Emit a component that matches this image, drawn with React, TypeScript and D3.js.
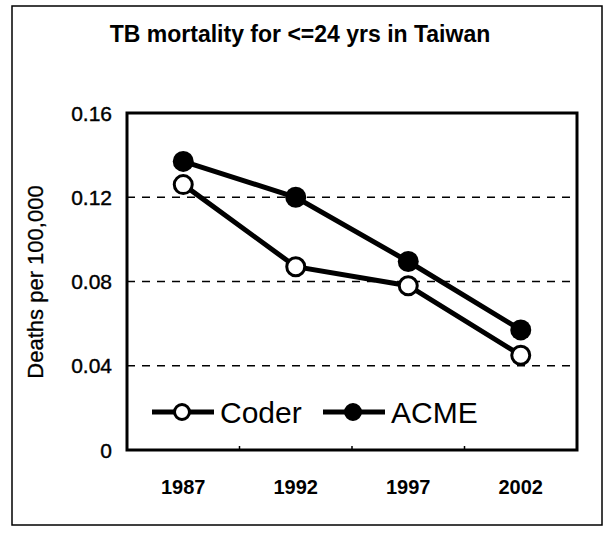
import * as d3 from "d3";

// chart data
const years = ["1987", "1992", "1997", "2002"];
const coder = [0.126, 0.087, 0.078, 0.045];
const acme = [0.137, 0.12, 0.0895, 0.057];
const yTicks = [0, 0.04, 0.08, 0.12, 0.16];
const yTickLabels = ["0", "0.04", "0.08", "0.12", "0.16"];

const font = "'Liberation Sans', Arial, sans-serif";

export default function App() {
  const width = 608;
  const height = 533;
  const left = 127;
  const right = 577;
  const top = 113;
  const bottom = 450;

  const x = d3.scaleBand<string>().domain(years).range([left, right]).padding(0);
  const y = d3.scaleLinear().domain([0, 0.16]).range([bottom, top]);
  const cx = (d: string) => (x(d) as number) + x.bandwidth() / 2;

  const line = d3
    .line<number>()
    .x((_, i) => cx(years[i]))
    .y((d) => y(d));

  // legend layout
  const legY = 412;
  const legend = [
    { name: "Coder", x0: 152, fill: "#fff" },
    { name: "ACME", x0: 323, fill: "#000" },
  ];

  return (
    <svg
      width={width}
      height={height}
      style={{ position: "absolute", left: 0, top: 0, background: "#fff" }}
      fontFamily={font}
    >
      {/* outer frame */}
      <rect x={12} y={6} width={590} height={519} fill="none" stroke="#000" strokeWidth={1.5} />

      <text x={300} y={42} textAnchor="middle" fontSize={23} fontWeight="bold">
        TB mortality for &lt;=24 yrs in Taiwan
      </text>

      {/* gridlines */}
      {yTicks.slice(1, 4).map((t) => (
        <line
          key={t}
          x1={left}
          x2={right}
          y1={y(t)}
          y2={y(t)}
          stroke="#000"
          strokeWidth={1.5}
          strokeDasharray="8 7"
        />
      ))}

      {/* y tick labels */}
      {yTicks.map((t, i) => (
        <text key={t} x={112} y={y(t)} dy="0.36em" textAnchor="end" fontSize={21} stroke="#000" strokeWidth={0.4}>
          {yTickLabels[i]}
        </text>
      ))}

      {/* x tick marks at band edges */}
      {years.slice(1).map((d) => (
        <line key={d} x1={x(d)} x2={x(d)} y1={bottom} y2={bottom - 4} stroke="#000" strokeWidth={1.5} />
      ))}

      {/* x tick labels */}
      {years.map((d) => (
        <text key={d} x={cx(d)} y={494} textAnchor="middle" fontSize={20} fontWeight="bold">
          {d}
        </text>
      ))}

      <text
        transform={`translate(35,282) rotate(-90)`}
        textAnchor="middle"
        dy="0.36em"
        fontSize={22}
        stroke="#000"
        strokeWidth={0.3}
      >
        Deaths per 100,000
      </text>

      {/* series */}
      <path d={line(coder) ?? ""} fill="none" stroke="#000" strokeWidth={5} />
      <path d={line(acme) ?? ""} fill="none" stroke="#000" strokeWidth={5} />
      {coder.map((v, i) => (
        <circle key={"c" + i} cx={cx(years[i])} cy={y(v)} r={9} fill="#fff" stroke="#000" strokeWidth={3} />
      ))}
      {acme.map((v, i) => (
        <circle key={"a" + i} cx={cx(years[i])} cy={y(v)} r={10.5} fill="#000" />
      ))}

      {/* plot frame */}
      <rect x={left} y={top} width={right - left} height={bottom - top} fill="none" stroke="#000" strokeWidth={3} />

      {/* legend */}
      {legend.map((l) => (
        <g key={l.name}>
          <line x1={l.x0} x2={l.x0 + 62} y1={legY} y2={legY} stroke="#000" strokeWidth={5} />
          <circle cx={l.x0 + 30} cy={legY} r={7.5} fill={l.fill} stroke="#000" strokeWidth={3} />
          <text x={l.x0 + 68} y={legY} dy="0.36em" fontSize={30}>
            {l.name}
          </text>
        </g>
      ))}
    </svg>
  );
}
